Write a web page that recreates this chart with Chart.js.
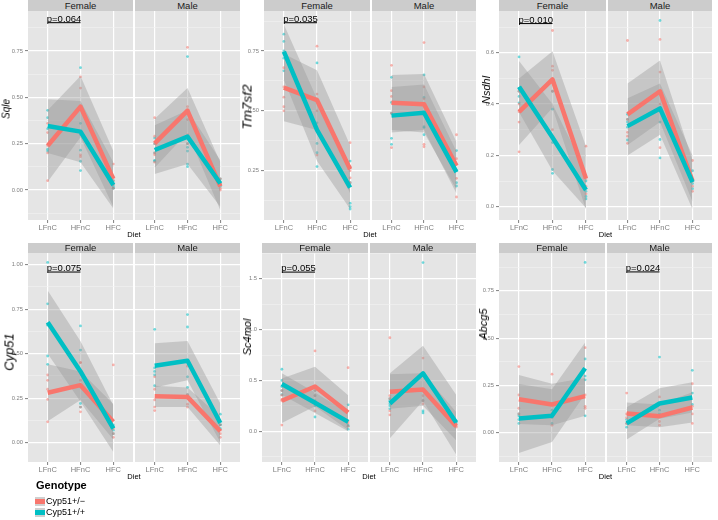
<!DOCTYPE html>
<html><head><meta charset="utf-8">
<script src="https://cdn.jsdelivr.net/npm/chart.js@4.4.1/dist/chart.umd.min.js"></script>
<style>
html,body{margin:0;padding:0;background:#fff;}
#wrap{position:relative;width:718px;height:520px;overflow:hidden;font-family:"Liberation Sans",Arial,sans-serif;background:#fff;}
canvas{position:absolute;}
.strip{position:absolute;background:#cccccc;color:#1a1a1a;font-size:9.5px;text-align:center;white-space:nowrap;}
.ytitle{position:absolute;font-style:italic;color:#000;white-space:nowrap;transform:translate(-50%,-50%) rotate(-90deg);}
.xtitle{position:absolute;font-size:7.5px;color:#000;transform:translateX(-50%);white-space:nowrap;}
.leg{position:absolute;color:#000;white-space:nowrap;}
.key{position:absolute;width:10px;height:9px;background:#d0d0d0;}
.key i{position:absolute;left:0;top:2px;width:10px;height:5px;}
</style></head><body><div id="wrap"></div>
<script>
const categories = ["LFnC", "HFnC", "HFC"];
const sexes = ["Female", "Male"];
const genotypes = ["Cyp51+/\u2212", "Cyp51+/+"];
const genes = ["Sqle", "Tm7sf2", "Nsdhl", "Cyp51", "Sc4mol", "Abcg5"];
// series order in every gene array below:
// [Female Cyp51+/-, Female Cyp51+/+, Male Cyp51+/-, Male Cyp51+/+], each over categories

// ---- Sqle ----
const sqleMean = [[0.239, 0.45, 0.06], [0.345, 0.315, 0.027], [0.252, 0.428, 0.02], [0.216, 0.288, 0.035]];
const sqleLow  = [[0.045, 0.285, -0.09], [0.20, 0.15, -0.10], [0.12, 0.31, -0.11], [0.086, 0.14, -0.09]];
const sqleHigh = [[0.43, 0.615, 0.21], [0.49, 0.48, 0.15], [0.385, 0.55, 0.15], [0.35, 0.43, 0.16]];
const sqlePts = [
  [[0.36, 0.31, 0.24, 0.20, 0.05], [0.61, 0.55, 0.45, 0.19, 0.18], [0.14, 0.07, 0.05, 0.03, 0.01]],
  [[0.43, 0.39, 0.33, 0.22, 0.21], [0.66, 0.36, 0.30, 0.215, 0.155, 0.105], [0.05, 0.03, 0.02, 0.01, 0.01]],
  [[0.39, 0.29, 0.25, 0.20, 0.19, 0.15], [0.77, 0.45, 0.38, 0.30, 0.25], [0.06, 0.03, 0.01, 0.0]],
  [[0.28, 0.25, 0.20, 0.16, 0.155], [0.72, 0.25, 0.23, 0.21, 0.14, 0.126], [0.06, 0.04, 0.03, 0.02]]
];
const sqleTicks = [0, 0.25, 0.5, 0.75];
const sqleMinor = [-0.125, 0.125, 0.375, 0.625, 0.875];
const sqleRange = [-0.162, 0.966];

// ---- Tm7sf2 ----
const tm7sf2Mean = [[0.597, 0.545, 0.256], [0.747, 0.42, 0.179], [0.534, 0.528, 0.27], [0.48, 0.492, 0.244]];
const tm7sf2Low  = [[0.457, 0.42, 0.156], [0.63, 0.29, 0.09], [0.42, 0.41, 0.17], [0.41, 0.42, 0.155]];
const tm7sf2High = [[0.737, 0.67, 0.356], [0.861, 0.55, 0.27], [0.65, 0.654, 0.37], [0.60, 0.61, 0.33]];
const tm7sf2Pts = [
  [[0.68, 0.60, 0.557, 0.517, 0.50], [0.77, 0.57, 0.55, 0.50, 0.315], [0.367, 0.267, 0.25, 0.22, 0.20]],
  [[0.82, 0.79, 0.75, 0.72, 0.667], [0.70, 0.45, 0.364, 0.325, 0.267], [0.29, 0.20, 0.114, 0.10, 0.09]],
  [[0.69, 0.584, 0.56, 0.49, 0.346], [0.785, 0.60, 0.55, 0.36, 0.35], [0.40, 0.30, 0.218, 0.14]],
  [[0.64, 0.535, 0.49, 0.385, 0.36], [0.65, 0.556, 0.434, 0.43, 0.40], [0.334, 0.25, 0.20, 0.186]]
];
const tm7sf2Ticks = [0.25, 0.5, 0.75];
const tm7sf2Minor = [0.125, 0.375, 0.625, 0.875];
const tm7sf2Range = [0.044, 0.917];

// ---- Nsdhl ----
const nsdhlMean = [[0.37, 0.496, 0.11], [0.468, 0.27, 0.065], [0.36, 0.45, 0.10], [0.314, 0.383, 0.096]];
const nsdhlLow  = [[0.24, 0.386, -0.01], [0.368, 0.14, -0.005], [0.24, 0.33, 0.02], [0.20, 0.28, -0.01]];
const nsdhlHigh = [[0.50, 0.606, 0.236], [0.568, 0.40, 0.135], [0.48, 0.57, 0.18], [0.423, 0.48, 0.20]];
const nsdhlPts = [
  [[0.45, 0.40, 0.37, 0.33, 0.214], [0.687, 0.548, 0.532, 0.45, 0.30], [0.236, 0.11, 0.08, 0.05]],
  [[0.584, 0.46, 0.45, 0.43, 0.405], [0.45, 0.38, 0.25, 0.145, 0.13], [0.10, 0.06, 0.04, 0.03]],
  [[0.648, 0.34, 0.29, 0.275, 0.247], [0.652, 0.525, 0.45, 0.40, 0.23], [0.18, 0.10, 0.08, 0.06]],
  [[0.36, 0.34, 0.33, 0.31, 0.26], [0.726, 0.38, 0.33, 0.262, 0.19], [0.14, 0.10, 0.09, 0.07]]
];
const nsdhlTicks = [0, 0.2, 0.4, 0.6];
const nsdhlMinor = [0.1, 0.3, 0.5, 0.7];
const nsdhlRange = [-0.052, 0.763];

// ---- Cyp51 ----
const cyp51Mean = [[0.28, 0.323, 0.117], [0.677, 0.40, 0.079], [0.261, 0.257, 0.064], [0.432, 0.46, 0.11]];
const cyp51Low  = [[0.12, 0.24, 0.017], [0.50, 0.23, -0.053], [0.20, 0.20, -0.016], [0.31, 0.35, 0.0]];
const cyp51High = [[0.44, 0.40, 0.217], [0.855, 0.57, 0.21], [0.32, 0.31, 0.144], [0.558, 0.571, 0.22]];
const cyp51Pts = [
  [[0.38, 0.35, 0.30, 0.243, 0.117], [0.45, 0.45, 0.35, 0.20, 0.173], [0.437, 0.08, 0.05, 0.03]],
  [[1.013, 0.78, 0.66, 0.487, 0.44], [0.656, 0.52, 0.40, 0.22, 0.20], [0.10, 0.09, 0.07, 0.05]],
  [[0.37, 0.30, 0.24, 0.20, 0.18], [0.43, 0.27, 0.25, 0.216, 0.20], [0.10, 0.07, 0.05, 0.03]],
  [[0.637, 0.42, 0.40, 0.38, 0.32], [0.72, 0.65, 0.37, 0.31, 0.27], [0.16, 0.10, 0.10, 0.08]]
];
const cyp51Ticks = [0, 0.25, 0.5, 0.75, 1.0];
const cyp51Minor = [0.125, 0.375, 0.625, 0.875];
const cyp51Range = [-0.109, 1.066];

// ---- Sc4mol ----
const sc4molMean = [[0.30, 0.44, 0.184], [0.464, 0.28, 0.092], [0.388, 0.41, 0.05], [0.273, 0.57, 0.085]];
const sc4molLow  = [[0.08, 0.245, 0.013], [0.36, 0.18, 0.0], [0.22, 0.25, -0.09], [-0.07, 0.30, -0.23]];
const sc4molHigh = [[0.52, 0.635, 0.355], [0.57, 0.38, 0.18], [0.56, 0.57, 0.19], [0.57, 0.84, 0.36]];
const sc4molPts = [
  [[0.40, 0.355, 0.31, 0.30, 0.06], [0.79, 0.44, 0.40, 0.35, 0.20], [0.625, 0.10, 0.08, 0.05]],
  [[0.61, 0.50, 0.44, 0.40, 0.36], [0.40, 0.35, 0.30, 0.25, 0.14], [0.26, 0.06, 0.05, 0.02]],
  [[0.92, 0.35, 0.32, 0.20, 0.16], [0.72, 0.40, 0.35, 0.30, 0.27], [0.06, 0.05, 0.04]],
  [[0.32, 0.30, 0.27, 0.25, 0.22], [1.66, 0.40, 0.30, 0.20, 0.18], [0.10, 0.09, 0.08]]
];
const sc4molTicks = [0, 0.5, 1.0, 1.5];
const sc4molMinor = [-0.25, 0.25, 0.75, 1.25, 1.75];
const sc4molRange = [-0.303, 1.754];

// ---- Abcg5 ----
const abcg5Mean = [[0.177, 0.15, 0.194], [0.076, 0.09, 0.341], [0.102, 0.088, 0.134], [0.05, 0.155, 0.187]];
const abcg5Low  = [[0.047, 0.04, 0.09], [-0.106, -0.048, 0.205], [0.04, 0.03, 0.054], [-0.035, 0.075, 0.107]];
const abcg5High = [[0.306, 0.26, 0.29], [0.258, 0.23, 0.477], [0.16, 0.15, 0.214], [0.135, 0.235, 0.267]];
const abcg5Pts = [
  [[0.35, 0.20, 0.13, 0.10], [0.31, 0.15, 0.10, 0.04], [0.45, 0.20, 0.14, 0.13]],
  [[0.10, 0.09, 0.07, 0.05], [0.12, 0.10, 0.08, 0.05], [0.90, 0.39, 0.30, 0.28, 0.09]],
  [[0.21, 0.10, 0.08, 0.05], [0.19, 0.06, 0.04], [0.26, 0.14, 0.10, 0.05]],
  [[0.07, 0.05, 0.03], [0.40, 0.12, 0.10], [0.33, 0.21, 0.15]]
];
const abcg5Ticks = [0, 0.25, 0.5, 0.75];
const abcg5Minor = [-0.125, 0.125, 0.375, 0.625, 0.875];
const abcg5Range = [-0.154, 0.950];

// p-value annotations: gene, facet (0 Female, 1 Male), y level, label
const pGenes  = ["Sqle", "Tm7sf2", "Nsdhl", "Cyp51", "Sc4mol", "Abcg5"];
const pFacet  = [0, 0, 0, 0, 0, 1];
const pLevel  = [0.903, 0.868, 0.714, 0.959, 1.566, 0.85];
const pLabels = ["p=0.064", "p=0.035", "p=0.010", "p=0.075", "p=0.055", "p=0.024"];

const geneData = {
  Sqle:   {mean: sqleMean, low: sqleLow, high: sqleHigh, pts: sqlePts, ticks: sqleTicks, minor: sqleMinor, range: sqleRange, dec: 2},
  Tm7sf2: {mean: tm7sf2Mean, low: tm7sf2Low, high: tm7sf2High, pts: tm7sf2Pts, ticks: tm7sf2Ticks, minor: tm7sf2Minor, range: tm7sf2Range, dec: 2},
  Nsdhl:  {mean: nsdhlMean, low: nsdhlLow, high: nsdhlHigh, pts: nsdhlPts, ticks: nsdhlTicks, minor: nsdhlMinor, range: nsdhlRange, dec: 1},
  Cyp51:  {mean: cyp51Mean, low: cyp51Low, high: cyp51High, pts: cyp51Pts, ticks: cyp51Ticks, minor: cyp51Minor, range: cyp51Range, dec: 2},
  Sc4mol: {mean: sc4molMean, low: sc4molLow, high: sc4molHigh, pts: sc4molPts, ticks: sc4molTicks, minor: sc4molMinor, range: sc4molRange, dec: 1},
  Abcg5:  {mean: abcg5Mean, low: abcg5Low, high: abcg5High, pts: abcg5Pts, ticks: abcg5Ticks, minor: abcg5Minor, range: abcg5Range, dec: 2}
};

// ---- layout (pixels) ----
const layout = {
  Sqle:   {f: [28, 133],  m: [135, 240], top: 11,  bottom: 220, stripTop: 0,   tx: 5.5, ty: 109, ts: 10},
  Tm7sf2: {f: [264, 370], m: [372, 476], top: 11,  bottom: 220, stripTop: 0,   tx: 247, ty: 107, ts: 13.5},
  Nsdhl:  {f: [499, 606], m: [608, 712], top: 11,  bottom: 220, stripTop: 0,   tx: 486, ty: 90, ts: 11},
  Cyp51:  {f: [28, 133],  m: [135, 240], top: 253, bottom: 462, stripTop: 243, tx: 9,   ty: 352, ts: 13},
  Sc4mol: {f: [262, 368], m: [370, 476], top: 253, bottom: 462, stripTop: 243, tx: 247, ty: 337, ts: 11},
  Abcg5:  {f: [499, 605], m: [607, 712], top: 253, bottom: 462, stripTop: 243, tx: 483, ty: 324, ts: 11}
};

const FAM = '"Liberation Sans", Arial, sans-serif';
const lineColors = ["#F8766D", "#00BFC4"];
const ptColors = ["rgba(248,118,109,0.55)", "rgba(0,191,196,0.55)"];
const ribbonFill = "rgba(153,153,153,0.4)";
const AXW = 26, XAH = 14;
const wrap = document.getElementById('wrap');

const bgPlugin = {
  id: 'panelbg',
  beforeDraw(chart) {
    const a = chart.chartArea, ctx = chart.ctx;
    ctx.save();
    ctx.fillStyle = '#e5e5e5';
    ctx.fillRect(a.left, a.top, a.right - a.left, a.bottom - a.top);
    ctx.restore();
  }
};

const pPlugin = {
  id: 'ptext',
  afterDatasetsDraw(chart, args, opts) {
    if (!opts || !opts.text) return;
    const xs = chart.scales.x, ys = chart.scales.y, ctx = chart.ctx;
    ctx.save();
    ctx.font = '9.5px ' + FAM;
    ctx.fillStyle = '#000';
    ctx.textAlign = 'center';
    ctx.textBaseline = 'alphabetic';
    ctx.fillText(opts.text, (xs.getPixelForValue(0) + xs.getPixelForValue(1)) / 2, ys.getPixelForValue(opts.y) - 1);
    ctx.restore();
  }
};

function addDiv(cls, left, top, width, height, html, extra) {
  const d = document.createElement('div');
  d.className = cls;
  d.style.left = left + 'px'; d.style.top = top + 'px';
  if (width != null) d.style.width = width + 'px';
  if (height != null) { d.style.height = height + 'px'; d.style.lineHeight = height + 'px'; }
  d.textContent = html;
  if (extra) Object.assign(d.style, extra);
  wrap.appendChild(d);
  return d;
}

function buildFacet(gene, si) {
  const g = geneData[gene], L = layout[gene];
  const [pl, pr] = si === 0 ? L.f : L.m;
  const aw = si === 0 ? AXW : 0;
  const w = pr - pl + aw, h = L.bottom - L.top + XAH;
  const cv = document.createElement('canvas');
  cv.width = w; cv.height = h;
  cv.style.left = (pl - aw) + 'px'; cv.style.top = L.top + 'px';
  cv.style.width = w + 'px'; cv.style.height = h + 'px';
  wrap.appendChild(cv);

  addDiv('strip', pl, L.stripTop, pr - pl, L.top - L.stripTop, sexes[si]);

  const datasets = [];
  for (let k = 0; k < 2; k++) {
    const idx = si * 2 + k;
    const pts = [];
    g.pts[idx].forEach((arr, ci) => arr.forEach(v => pts.push({x: ci, y: v})));
    datasets.push({data: pts, showLine: false, pointRadius: 1.4, pointBackgroundColor: ptColors[k],
      pointBorderWidth: 0, pointBorderColor: 'rgba(0,0,0,0)', borderColor: 'rgba(0,0,0,0)', order: 3});
    const lowIdx = datasets.length;
    datasets.push({data: g.low[idx].map((v, ci) => ({x: ci, y: v})), borderWidth: 0, borderColor: 'rgba(0,0,0,0)',
      pointRadius: 0, fill: false, order: 2});
    datasets.push({data: g.high[idx].map((v, ci) => ({x: ci, y: v})), borderWidth: 0, borderColor: 'rgba(0,0,0,0)',
      pointRadius: 0, fill: lowIdx, backgroundColor: ribbonFill, order: 2});
  }
  for (let k = 0; k < 2; k++) {
    const idx = si * 2 + k;
    datasets.push({data: g.mean[idx].map((v, ci) => ({x: ci, y: v})), borderColor: lineColors[k], borderWidth: 4.5,
      borderJoinStyle: 'round', borderCapStyle: 'butt', pointRadius: 0, fill: false, order: k === 1 ? 0 : 1});
  }
  let ptext = {text: '', y: 0};
  const pi = pGenes.indexOf(gene);
  if (pi >= 0 && pFacet[pi] === si) {
    datasets.push({data: [{x: 0, y: pLevel[pi]}, {x: 1, y: pLevel[pi]}], borderColor: '#000', borderWidth: 1,
      pointRadius: 0, fill: false, order: 0});
    ptext = {text: pLabels[pi], y: pLevel[pi]};
  }

  const yt = g.ticks.map(v => ({value: v, minor: false})).concat(g.minor.map(v => ({value: v, minor: true})))
    .sort((a, b) => a.value - b.value);
  const isMinor = c => !!(c.tick && c.tick.minor);
  const zeroPad = s => { s.paddingLeft = 0; s.paddingRight = 0; s.paddingTop = 0; s.paddingBottom = 0; };

  new Chart(cv, {
    type: 'line',
    data: {datasets},
    options: {
      responsive: false, animation: false, devicePixelRatio: 1,
      layout: {padding: 0, autoPadding: false},
      plugins: {legend: {display: false}, tooltip: {enabled: false}, ptext},
      scales: {
        x: {
          type: 'linear', min: -0.6, max: 2.6,
          afterBuildTicks: s => { s.ticks = categories.map((c, i) => ({value: i})); },
          afterFit: s => { s.height = XAH; zeroPad(s); },
          border: {display: false},
          grid: {color: '#ffffff', lineWidth: 1.2, tickLength: 3, tickColor: '#7f7f7f', tickWidth: 1},
          ticks: {autoSkip: false, maxRotation: 0, minRotation: 0, padding: 0, color: '#7f7f7f',
            font: {size: 7.5, family: FAM}, callback: v => categories[v]}
        },
        y: {
          type: 'linear', min: g.range[0], max: g.range[1],
          afterBuildTicks: s => { s.ticks = yt.map(t => ({value: t.value, minor: t.minor})); },
          afterFit: s => { s.width = aw; zeroPad(s); },
          border: {display: false},
          grid: {color: c => isMinor(c) ? '#f2f2f2' : '#ffffff', lineWidth: c => isMinor(c) ? 0.6 : 1.2,
            drawTicks: si === 0, tickLength: 3, tickWidth: 1,
            tickColor: c => isMinor(c) ? 'rgba(0,0,0,0)' : '#7f7f7f'},
          ticks: {display: si === 0, autoSkip: false, padding: 2, color: '#7f7f7f',
            font: {size: 5.8, family: FAM},
            callback: (v, i, t) => (t[i] && t[i].minor) ? '' : Number(v).toFixed(g.dec)}
        }
      }
    },
    plugins: [bgPlugin, pPlugin]
  });
}

genes.forEach(gene => {
  buildFacet(gene, 0);
  buildFacet(gene, 1);
  const L = layout[gene];
  addDiv('ytitle', L.tx, L.ty, null, null, gene, {fontSize: L.ts + 'px'});
  const cx = (L.f[0] + L.m[1]) / 2;
  addDiv('xtitle', cx, L.bottom + 10, null, null, 'Diet');
});

// legend
addDiv('leg', 36, 479, null, null, 'Genotype', {fontSize: '11px', fontWeight: 'bold'});
genotypes.forEach((gname, k) => {
  const key = document.createElement('div');
  key.className = 'key';
  key.style.left = '35px'; key.style.top = (497 + k * 11) + 'px';
  const bar = document.createElement('i');
  bar.style.background = lineColors[k];
  key.appendChild(bar);
  wrap.appendChild(key);
  addDiv('leg', 46, 496 + k * 11, null, null, gname, {fontSize: '9px'});
});
</script>
</body></html>
